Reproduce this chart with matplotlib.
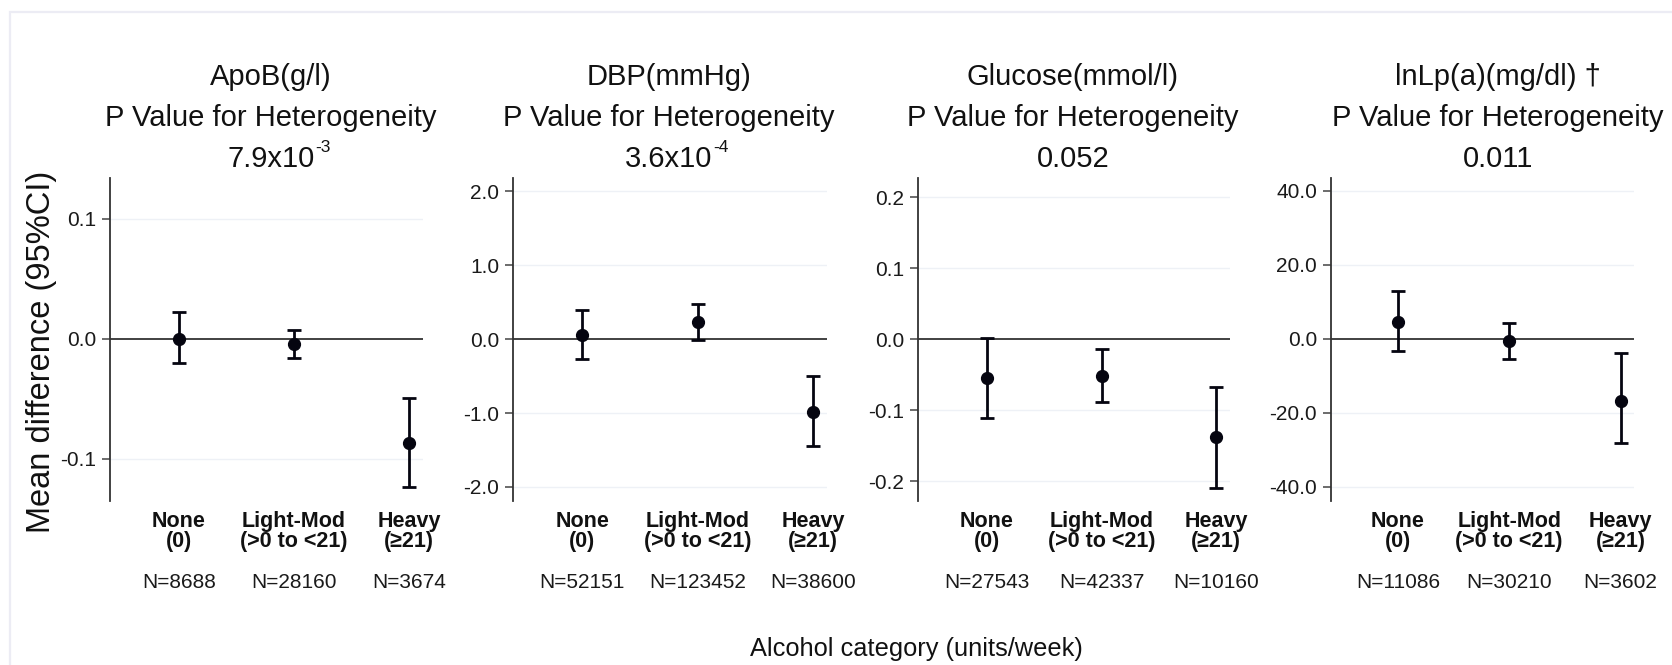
import matplotlib
matplotlib.use("Agg")
import matplotlib.pyplot as plt
from matplotlib.patches import Rectangle
from matplotlib.ticker import FormatStrFormatter
from matplotlib.transforms import blended_transform_factory

plt.rcParams['font.family'] = ['Liberation Sans', 'DejaVu Sans']
plt.rcParams['axes.unicode_minus'] = False

# ---------------- data ----------------
categories = ["None\n(0)", "Light-Mod\n(>0 to <21)", "Heavy\n(≥21)"]
outcomes = ["ApoB(g/l)", "DBP(mmHg)", "Glucose(mmol/l)", "lnLp(a)(mg/dl) †"]
p_base = ["7.9x10", "3.6x10", "0.052", "0.011"]
p_exp = ["-3", "-4", "", ""]

n_apob = [8688, 28160, 3674]
n_dbp = [52151, 123452, 38600]
n_glucose = [27543, 42337, 10160]
n_lpa = [11086, 30210, 3602]

apob_est = [0.000, -0.004, -0.087]
apob_lo = [-0.020, -0.016, -0.123]
apob_hi = [0.022, 0.0075, -0.049]

dbp_est = [0.05, 0.23, -0.98]
dbp_lo = [-0.27, -0.01, -1.45]
dbp_hi = [0.39, 0.48, -0.50]

glucose_est = [-0.055, -0.052, -0.138]
glucose_lo = [-0.111, -0.089, -0.209]
glucose_hi = [0.001, -0.014, -0.068]

lpa_est = [4.6, -0.5, -16.8]
lpa_lo = [-3.2, -5.4, -28.1]
lpa_hi = [13.0, 4.3, -3.8]

yticks_apob = [-0.1, 0.0, 0.1]
yticks_dbp = [-2.0, -1.0, 0.0, 1.0, 2.0]
yticks_glucose = [-0.2, -0.1, 0.0, 0.1, 0.2]
yticks_lpa = [-40.0, -20.0, 0.0, 20.0, 40.0]

# ---------------- layout ----------------
W, H = 1672, 665
fig = plt.figure(figsize=(W / 100, H / 100), dpi=100)

panels = [
    dict(est=apob_est, lo=apob_lo, hi=apob_hi, n=n_apob, ticks=yticks_apob,
         ylim=(-0.135, 0.134), left=110, width=313, tcx=271),
    dict(est=dbp_est, lo=dbp_lo, hi=dbp_hi, n=n_dbp, ticks=yticks_dbp,
         ylim=(-2.19, 2.18), left=513, width=314, tcx=669),
    dict(est=glucose_est, lo=glucose_lo, hi=glucose_hi, n=n_glucose, ticks=yticks_glucose,
         ylim=(-0.228, 0.227), left=918, width=312, tcx=1073),
    dict(est=lpa_est, lo=lpa_lo, hi=lpa_hi, n=n_lpa, ticks=yticks_lpa,
         ylim=(-43.8, 43.5), left=1331, width=303, tcx=1498),
]

ax_top, ax_bot = 178, 501
txt_col = '#1a1a1a'

for i, p in enumerate(panels):
    ax = fig.add_axes([p['left'] / W, (H - ax_bot) / H, p['width'] / W, (ax_bot - ax_top) / H])
    x = list(range(len(categories)))
    ax.set_xlim(-0.6, 2.12)
    ax.set_ylim(*p['ylim'])
    for t in p['ticks']:
        if t != 0:
            ax.axhline(t, color='#eef1f6', lw=1.0, zorder=0)
    ax.axhline(0, color='#333333', lw=1.3, zorder=1)
    yerr = [[e - l for e, l in zip(p['est'], p['lo'])],
            [h - e for e, h in zip(p['est'], p['hi'])]]
    ax.errorbar(x, p['est'], yerr=yerr, fmt='o', color='#050510', ms=8.5,
                elinewidth=2.0, capsize=5, capthick=2.0, zorder=3)
    for s in ['top', 'right', 'bottom']:
        ax.spines[s].set_visible(False)
    ax.spines['left'].set_color('#333333')
    ax.spines['left'].set_linewidth(1.3)
    ax.set_yticks(p['ticks'])
    ax.yaxis.set_major_formatter(FormatStrFormatter('%.1f'))
    ax.tick_params(axis='y', length=6, width=1.1, color='#444444', labelsize=15,
                   labelcolor=txt_col, pad=4)
    ax.set_xticks(x)
    ax.set_xticklabels(categories, fontweight='bold', fontsize=15.5, linespacing=0.95)
    ax.tick_params(axis='x', length=0, pad=7, labelcolor='#111111')
    trans = blended_transform_factory(ax.transData, ax.transAxes)
    for xi, n in zip(x, p['n']):
        ax.text(xi, (ax_bot - 582) / (ax_bot - ax_top), f"N={n}", transform=trans,
                ha='center', va='center', fontsize=15, color=txt_col)
    cx = p['tcx'] / W
    fig.text(cx, 1 - 77 / H, outcomes[i], ha='center', va='center', fontsize=21, color='#111111')
    fig.text(cx, 1 - 118 / H, "P Value for Heterogeneity", ha='center', va='center',
             fontsize=21, color='#111111')
    t = fig.text(cx, 1 - 159 / H, p_base[i], ha='center', va='center', fontsize=21, color='#111111')
    if p_exp[i]:
        ax.annotate(p_exp[i], xy=(1, 1), xycoords=t, xytext=(0.5, -2), textcoords='offset points',
                    ha='left', va='center', fontsize=12.5, color='#111111', annotation_clip=False)

fig.text(42 / W, 1 - 352 / H, "Mean difference (95%CI)", rotation=90, ha='center', va='center',
         fontsize=23.5, color='#111111')
fig.text(916 / W, 1 - 649 / H, "Alcohol category (units/week)", ha='center', va='center',
         fontsize=18.3, color='#111111')

fig.patches.append(Rectangle((10 / W, -0.1), 1.2, 1.1 - 12 / H, transform=fig.transFigure,
                             fill=False, edgecolor='#ececf4', lw=1.6, zorder=0))

fig.savefig("out.png", dpi=100)
